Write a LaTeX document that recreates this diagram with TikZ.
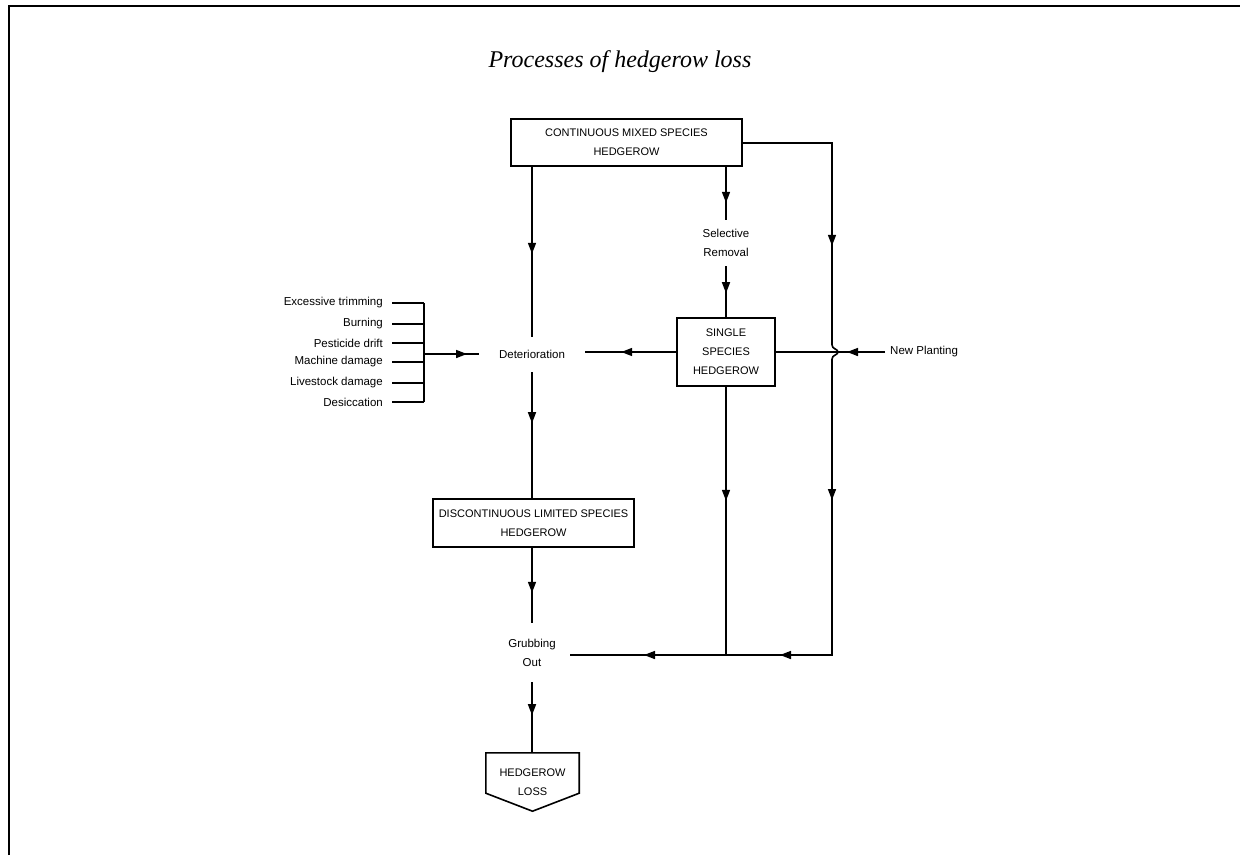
\documentclass[tikz,border=0pt]{standalone}
\usepackage{fontspec}
\setmainfont{Liberation Serif}
\newfontfamily\labfont{Liberation Sans}
\usetikzlibrary{arrows.meta,decorations.markings,calc}

\tikzset{
  flow/.style={line width=1.6pt},
  arrowat/.style={postaction={decorate,decoration={markings,
      mark=at position #1 with {\arrow{Triangle[length=11pt,width=8pt]}}}}},
  box/.style={draw,line width=1.6pt,align=center,inner sep=2pt,
      font=\labfont\fontsize{11}{19}\selectfont},
  plain/.style={align=center,inner sep=0pt,
      font=\labfont\fontsize{11.5}{19}\selectfont},
  lst/.style={anchor=east,inner ysep=0pt,inner xsep=9pt,
      font=\labfont\fontsize{11.5}{14}\selectfont},
  ttl/.style={font=\itshape\fontsize{24}{28}\selectfont}
}

\begin{document}
\begin{tikzpicture}[x=1pt,y=-1pt]
\useasboundingbox (0,0) rectangle (1240,855);

% outer frame (top and left edges)
\draw[line width=2.5pt] (9,855) -- (9,6) -- (1240,6);

% title
\node[ttl] (title) at (620,62) {Processes of hedgerow loss};

% boxes and labels
\node[box,minimum width=231pt,minimum height=47pt] (cm) at (626.5,142.5)
  {CONTINUOUS MIXED SPECIES\\HEDGEROW};
\node[plain,minimum width=105pt,minimum height=35pt] (det) at (532,354.5) {Deterioration};
\node[plain,minimum width=60pt,minimum height=46pt] (sel) at (726,243) {Selective\\Removal};
\node[box,minimum width=98pt,minimum height=68pt] (ss) at (726,352)
  {SINGLE\\SPECIES\\HEDGEROW};
\node[box,minimum width=201pt,minimum height=48pt] (dls) at (533.5,523)
  {DISCONTINUOUS LIMITED SPECIES\\HEDGEROW};
\node[plain,minimum width=76pt,minimum height=59pt] (grub) at (532,652.5) {Grubbing\\Out};
\node[plain,minimum width=93pt,minimum height=58pt,font=\labfont\fontsize{11}{19}\selectfont]
  (loss) at (532.5,782) {HEDGEROW\\LOSS};
\draw[flow,line join=miter] (loss.north west) -- (loss.north east)
  -- ([yshift=18pt]loss.south east) -- (loss.south)
  -- ([yshift=18pt]loss.south west) -- cycle;
\node[plain,anchor=west,inner xsep=5pt] (np) at (885,352) {New Planting};

% causes of deterioration
\node[lst] (c1) at (392,303) {Excessive trimming};
\node[lst] (c2) at (392,324) {Burning};
\node[lst] (c3) at (392,343) {Pesticide drift};
\node[lst] (c4) at (392,362) {Machine damage};
\node[lst] (c5) at (392,383) {Livestock damage};
\node[lst] (c6) at (392,402) {Desiccation};
\coordinate (brk) at (424,354);
\foreach \c in {c1,c2,c3,c4,c5,c6}
  \draw[flow] (\c.east) -- (\c.east -| brk);
\draw[flow] (c1.east -| brk) -- (c6.east -| brk);
\draw[flow,arrowat=43pt] (brk) -- (brk -| det.west);

% junction points on the right-hand branch
\coordinate (rt) at (832,143);
\coordinate (hopA) at (832,345);
\coordinate (hopT) at (838,352);
\coordinate (hopB) at (832,359);
\coordinate (rb) at (832,655);
\coordinate (J) at (726,655);

% main column
\draw[flow,arrowat=87pt] (det.north |- cm.south) -- (det.north);
\draw[flow,arrowat=51pt] (det.south) -- (det.south |- dls.north);
\draw[flow,arrowat=45pt] (dls.south -| grub.north) -- (grub.north);
\draw[flow,arrowat=33pt] (grub.south) -- (grub.south |- loss.north);

% selective removal branch
\draw[flow,arrowat=36pt] (sel.north |- cm.south) -- (sel.north);
\draw[flow,arrowat=27pt] (sel.south) -- (ss.north);
\draw[flow,arrowat=55pt] (ss.west) -- (ss.west -| det.east);
\draw[flow,arrowat=114pt] (ss.south) -- (J);

% right-hand branch with its crossing over the planting line
\draw[flow,arrowat=192pt] (cm.east |- rt) -- (rt) -- (hopA);
\draw[flow] (hopA) .. controls (832,349) and (838,349) .. (hopT)
  .. controls (838,355) and (832,355) .. (hopB);
\draw[flow,arrowat=141pt,arrowat=348pt] (hopB) -- (rb) -- (J);
\draw[flow,arrowat=82pt] (J) -- (J -| grub.east);

% new planting feeds the single species hedgerow
\draw[flow] (ss.east) -- (hopT);
\draw[flow,arrowat=38pt] (np.west) -- (hopT);
\end{tikzpicture}
\end{document}
